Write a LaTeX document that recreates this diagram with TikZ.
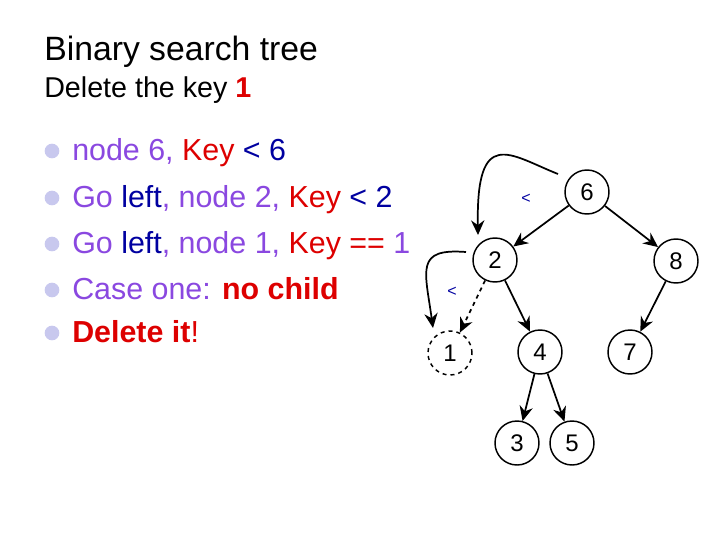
\documentclass[tikz,border=0pt]{standalone}
\usepackage{fontspec}
\setmainfont{Liberation Sans}
\usetikzlibrary{arrows.meta}
\definecolor{pur}{HTML}{8A48E0}
\definecolor{dblue}{HTML}{0000A0}
\definecolor{dred}{HTML}{DD0000}
\definecolor{bul}{HTML}{C8C8EE}
\begin{document}
\begin{tikzpicture}[x=0.75pt,y=-0.75pt,
  tn/.style={circle,draw,line width=1.1pt,minimum size=33pt,inner sep=0pt,font=\fontsize{18}{20}\selectfont},
  ed/.style={line width=1.3pt,-{Stealth[length=11pt,width=10pt]}},
  lt/.style={text=dblue,font=\fontsize{12}{13}\selectfont},
  bl/.style={anchor=base west,font=\fontsize{22.8}{26}\selectfont,text=pur,inner sep=0pt},
  dot/.style={circle,fill=bul,inner sep=0pt,minimum size=11pt}]
\useasboundingbox (0,0) rectangle (720,540);
\node[anchor=base west,inner sep=0pt,font=\fontsize{25.3}{28}\selectfont] (t1) at (44,60) {Binary search tree};
\node[anchor=base west,inner sep=0pt,font=\fontsize{21.5}{24}\selectfont] (t2) at (44,97) {Delete the key \textcolor{dred}{\textbf{1}}};
\foreach \y/\n in {160/d1,207/d2,253/d3,299/d4,342/d5}{\node[dot] (\n) at (52,\y-9) {};}
\node[bl] (b1) at (72,160) {node 6, \textcolor{dred}{Key} \textcolor{dblue}{< 6}};
\node[bl] (b2) at (72,207) {Go \textcolor{dblue}{left}, node 2, \textcolor{dred}{Key} \textcolor{dblue}{< 2}};
\node[bl] (b3) at (72,253) {Go \textcolor{dblue}{left}, node 1, \textcolor{dred}{Key == }1};
\node[bl] (b4) at (72,299) {Case one: \textcolor{dred}{\textbf{no child}}};
\node[bl] (b5) at (72,342) {\textcolor{dred}{\textbf{Delete it}!}};
\node[tn] (n6) at (587,192) {6};
\node[tn] (n2) at (495,260) {2};
\node[tn] (n8) at (676,261) {8};
\node[tn,dashed] (n1) at (450,353) {1};
\node[tn] (n4) at (540,352) {4};
\node[tn] (n7) at (630,352) {7};
\node[tn] (n3) at (517,443) {3};
\node[tn] (n5) at (572,443) {5};
\draw[ed] (n6) -- (n2);
\draw[ed] (n6) -- (n8);
\draw[ed,dashed] (n2) -- (n1);
\draw[ed] (n2) -- (n4);
\draw[ed] (n8) -- (n7);
\draw[ed] (n4) -- (n3);
\draw[ed] (n4) -- (n5);
\coordinate (c1) at (558,174);
\coordinate (c2) at (478,235);
\draw[ed] (c1) .. controls (510,155) and (476,125) .. (c2);
\coordinate (c3) at (466,252);
\coordinate (c4) at (433,328);
\draw[ed] (c3) .. controls (415,248) and (425,270) .. (c4);
\node[lt] (l1) at (526,199) {<};
\node[lt] (l2) at (452,292) {<};
\end{tikzpicture}
\end{document}
